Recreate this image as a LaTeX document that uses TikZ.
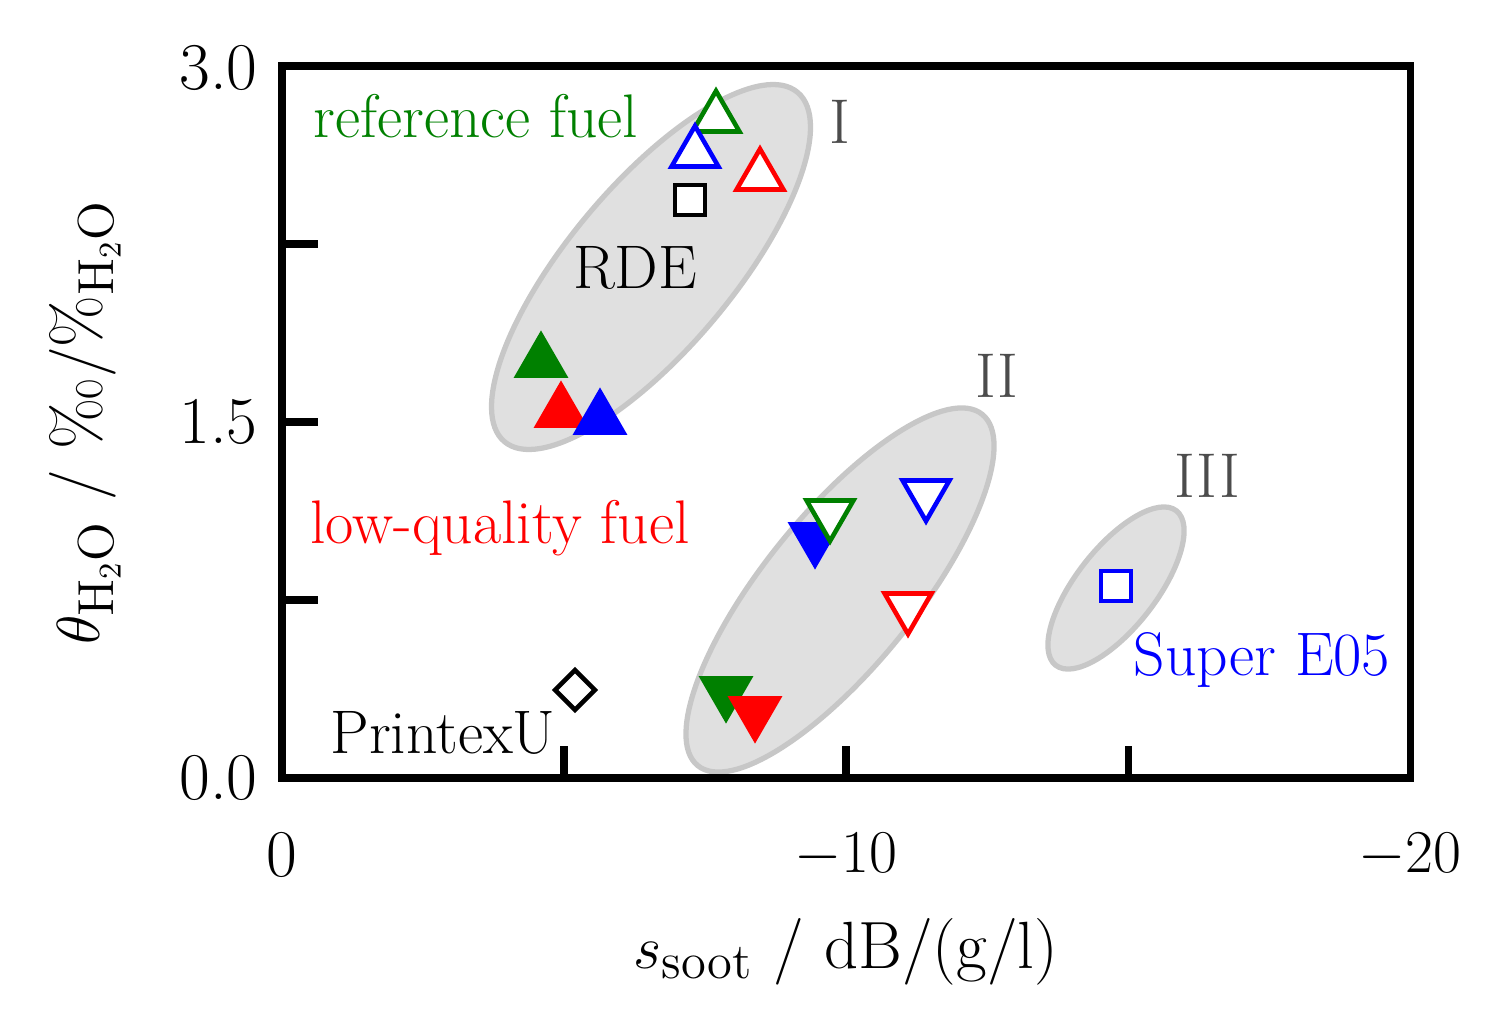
\documentclass[tikz,border=0pt]{standalone}
\usepackage{textcomp}
\usetikzlibrary{shapes.geometric}
\begin{document}
\begin{tikzpicture}[x=0.01cm,y=-0.01cm,
 ell/.style={fill=black!12,draw=black!22,line width=1.5pt},
 tri/.style={regular polygon,regular polygon sides=3,minimum size=0.54cm,inner sep=0pt,line width=1.3pt},
 up/.style={tri,draw=#1,fill=white},
 upf/.style={tri,draw=#1,fill=#1},
 dn/.style={tri,shape border rotate=180,draw=#1,fill=white},
 dnf/.style={tri,shape border rotate=180,draw=#1,fill=#1},
 sq/.style={rectangle,minimum size=0.3cm,inner sep=0pt,draw=#1,fill=white,line width=1.3pt},
 lab/.style={font=\fontsize{17.5}{20}\selectfont},
 big/.style={font=\fontsize{19}{22}\selectfont},
 rom/.style={font=\fontsize{18}{20}\selectfont,text=black!70}]
\useasboundingbox (0,0) rectangle (1491,1015);
\draw[ell,rotate around={50:(651,267)}] (651,267) ellipse [x radius=228,y radius=82];
\draw[ell,rotate around={51:(840,590)}] (840,590) ellipse [x radius=226,y radius=76];
\draw[ell,rotate around={52:(1116,588)}] (1116,588) ellipse [x radius=98,y radius=40];
% frame and ticks
\draw[line width=2pt] (282,66) rectangle (1410,778);
\foreach \y in {244,422,600} \draw[line width=2pt] (282,\y) -- (318,\y);
\foreach \x in {564,846,1128} \draw[line width=2pt] (\x,778) -- (\x,746);
\node[big,anchor=east] (t30) at (270,68) {3.0};
\node[big,anchor=east] (t15) at (270,422) {1.5};
\node[big,anchor=east] (t00) at (270,778) {0.0};
\node[big] (x0) at (282,855) {0};
\node[big] (x10) at (846,855) {$-10$};
\node[big] (x20) at (1410,855) {$-20$};
\node[big] (xl) at (846,952) {$s_{\mathrm{soot}}$ / dB/(g/l)};
\node[big,rotate=90] (yl) at (85,422) {$\theta_{\mathrm{H_2O}}$ / \textperthousand/\%$_{\mathrm{H_2O}}$};
% markers
\node[up=green!50!black] (m1) at (716,118) {};
\node[up=blue] (m2) at (695,153) {};
\node[up=red] (m3) at (760,176) {};
\node[sq=black] (m4) at (690,200) {};
\node[upf=green!50!black] (m5) at (541,362) {};
\node[upf=red] (m6) at (561,412) {};
\node[upf=blue] (m7) at (600,419) {};
\node[dnf=blue] (m8) at (815,538) {};
\node[dn=green!50!black] (m9) at (830,514) {};
\node[dn=blue] (m10) at (926,494) {};
\node[dn=red] (m11) at (908,607) {};
\node[dnf=green!50!black] (m12) at (726,692) {};
\node[dnf=red] (m13) at (755,712) {};
\node[sq=blue] (m14) at (1116,586) {};
\node[sq=black,rotate=45,minimum size=0.28cm] (m15) at (575,690) {};
% labels
\node[lab,text=green!50!black] (l1) at (476,116) {reference fuel};
\node[lab] (l2) at (635,268) {RDE};
\node[lab,text=red] (l3) at (500,528) {low-quality fuel};
\node[lab] (l4) at (443,733) {PrintexU};
\node[lab,text=blue] (l5) at (1262,660) {Super E05};
\node[rom] (r1) at (840,122) {I};
\node[rom] (r2) at (997,376) {II};
\node[rom] (r3) at (1207,476) {III};
\end{tikzpicture}
\end{document}
